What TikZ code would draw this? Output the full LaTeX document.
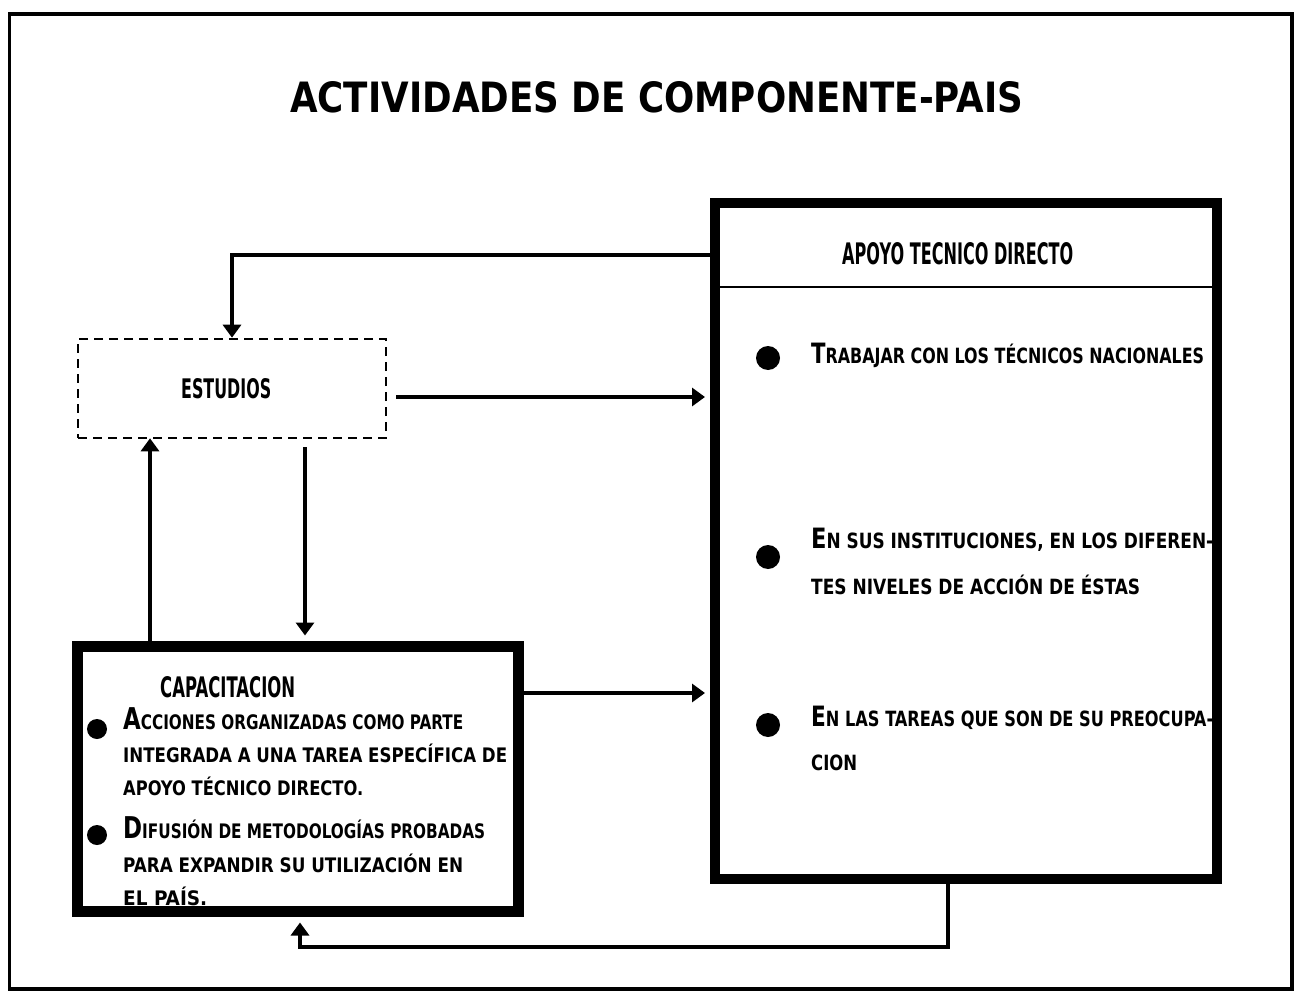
\documentclass[tikz,border=0pt]{standalone}
\usepackage{fontspec}
\setmainfont{Liberation Sans}
\newfontfamily\lett{DejaVu Sans Condensed}
\newfontfamily\heavy{DejaVu Sans}
\usetikzlibrary{arrows.meta}
\newcommand\ini[2]{{\fontsize{#1}{#1}\selectfont #2}}
\newcommand\fitw[2]{\resizebox{#1}{\height}{#2}}
\begin{document}
\begin{tikzpicture}[x=1pt,y=-1pt,
  txtr/.style={anchor=base west, inner sep=0pt, font=\lett\fontsize{21pt}{21pt}\selectfont\bfseries},
  txtl/.style={anchor=base west, inner sep=0pt, font=\lett\fontsize{20pt}{20pt}\selectfont\bfseries},
  head/.style={anchor=base west, inner sep=0pt, font=\heavy\bfseries},
  dot/.style={circle, fill=black, inner sep=0pt, minimum size=#1},
  arr/.style={-{Triangle[length=13pt,width=18pt]}, line width=3.4pt},
  thickbox/.style={draw, rectangle, inner sep=0pt, line width=#1},
  dashbox/.style={draw, rectangle, inner sep=0pt, line width=2.6pt, dash pattern=on 9pt off 6pt}
]
\useasboundingbox (0,0) rectangle (1295,992);
% outer frame
\draw[line width=3.8pt] (9.5,14) rectangle (1292,989);

% title
\node[head] (title) at (290,113) {\resizebox{733pt}{31pt}{ACTIVIDADES DE COMPONENTE-PAIS}};

% boxes
\node[thickbox=10pt, minimum width=502pt, minimum height=676pt] (apoyo) at (966,541) {};
\node[thickbox=11pt, minimum width=441pt, minimum height=265pt] (cap) at (298,779) {};
\node[dashbox, minimum width=308pt, minimum height=99pt] (est) at (232,388.5) {};

% header divider of right box
\coordinate (cdiv) at (0,287);
\draw[line width=2.4pt] (apoyo.west |- cdiv) -- (apoyo.east |- cdiv);

% headings
\node[head] (apoyoT) at (842,265) {\resizebox{231pt}{22pt}{APOYO TECNICO DIRECTO}};
\node[head] (estT) at (181,398) {\resizebox{90pt}{20pt}{ESTUDIOS}};
\node[head] (capT) at (160,697) {\resizebox{135pt}{21pt}{CAPACITACION}};

% right box bullets and text
\node[dot=24pt] (rb1) at (768,358) {};
\node[dot=24pt] (rb2) at (768,557) {};
\node[dot=24pt] (rb3) at (768,725) {};
\node[txtr] (r1) at (811,363) {\fitw{393pt}{\ini{28pt}{T}RABAJAR CON LOS TÉCNICOS NACIONALES}};
\node[txtr] (r2) at (811,548) {\fitw{402pt}{\ini{28pt}{E}N SUS INSTITUCIONES, EN LOS DIFEREN-}};
\node[txtr] (r3) at (811,594) {\fitw{329pt}{TES NIVELES DE ACCIÓN DE ÉSTAS}};
\node[txtr] (r4) at (811,726) {\fitw{402pt}{\ini{28pt}{E}N LAS TAREAS QUE SON DE SU PREOCUPA-}};
\node[txtr] (r5) at (811,770) {\fitw{46pt}{CION}};

% left box bullets and text
\node[dot=20pt] (lb1) at (97,729) {};
\node[dot=20pt] (lb2) at (97,835) {};
\node[txtl] (l1) at (123,729) {\fitw{340pt}{\ini{30pt}{A}CCIONES ORGANIZADAS COMO PARTE}};
\node[txtl] (l2) at (123,762) {\fitw{384pt}{INTEGRADA A UNA TAREA ESPECÍFICA DE}};
\node[txtl] (l3) at (123,795) {\fitw{240pt}{APOYO TÉCNICO DIRECTO.}};
\node[txtl] (l4) at (123,838) {\fitw{362pt}{\ini{30pt}{D}IFUSIÓN DE METODOLOGÍAS PROBADAS}};
\node[txtl] (l5) at (123,872) {\fitw{340pt}{PARA EXPANDIR SU UTILIZACIÓN EN}};
\node[txtl] (l6) at (123,905) {\fitw{84pt}{EL PAÍS.}};

% connectors
\coordinate (c1) at (0,255);
\draw[arr] (apoyo.west |- c1) -| (est.north);
\coordinate (c2) at (0,397);
\draw[arr, shorten <=9pt, shorten >=5pt] (est.east |- c2) -- (apoyo.west |- c2);
\coordinate (c3) at (150,0);
\draw[arr, shorten >=-1pt] (cap.north -| c3) -- (est.south -| c3);
\coordinate (c4) at (305,0);
\draw[arr, shorten <=8pt, shorten >=5.5pt] (est.south -| c4) -- (cap.north -| c4);
\coordinate (c5) at (0,693);
\draw[arr, shorten >=5pt] (cap.east |- c5) -- (apoyo.west |- c5);
\coordinate (c6) at (948,0);
\coordinate (c7) at (300,947);
\draw[arr, shorten >=5.5pt] (apoyo.south -| c6) |- (c7) -- (cap.south -| c7);
\end{tikzpicture}
\end{document}
